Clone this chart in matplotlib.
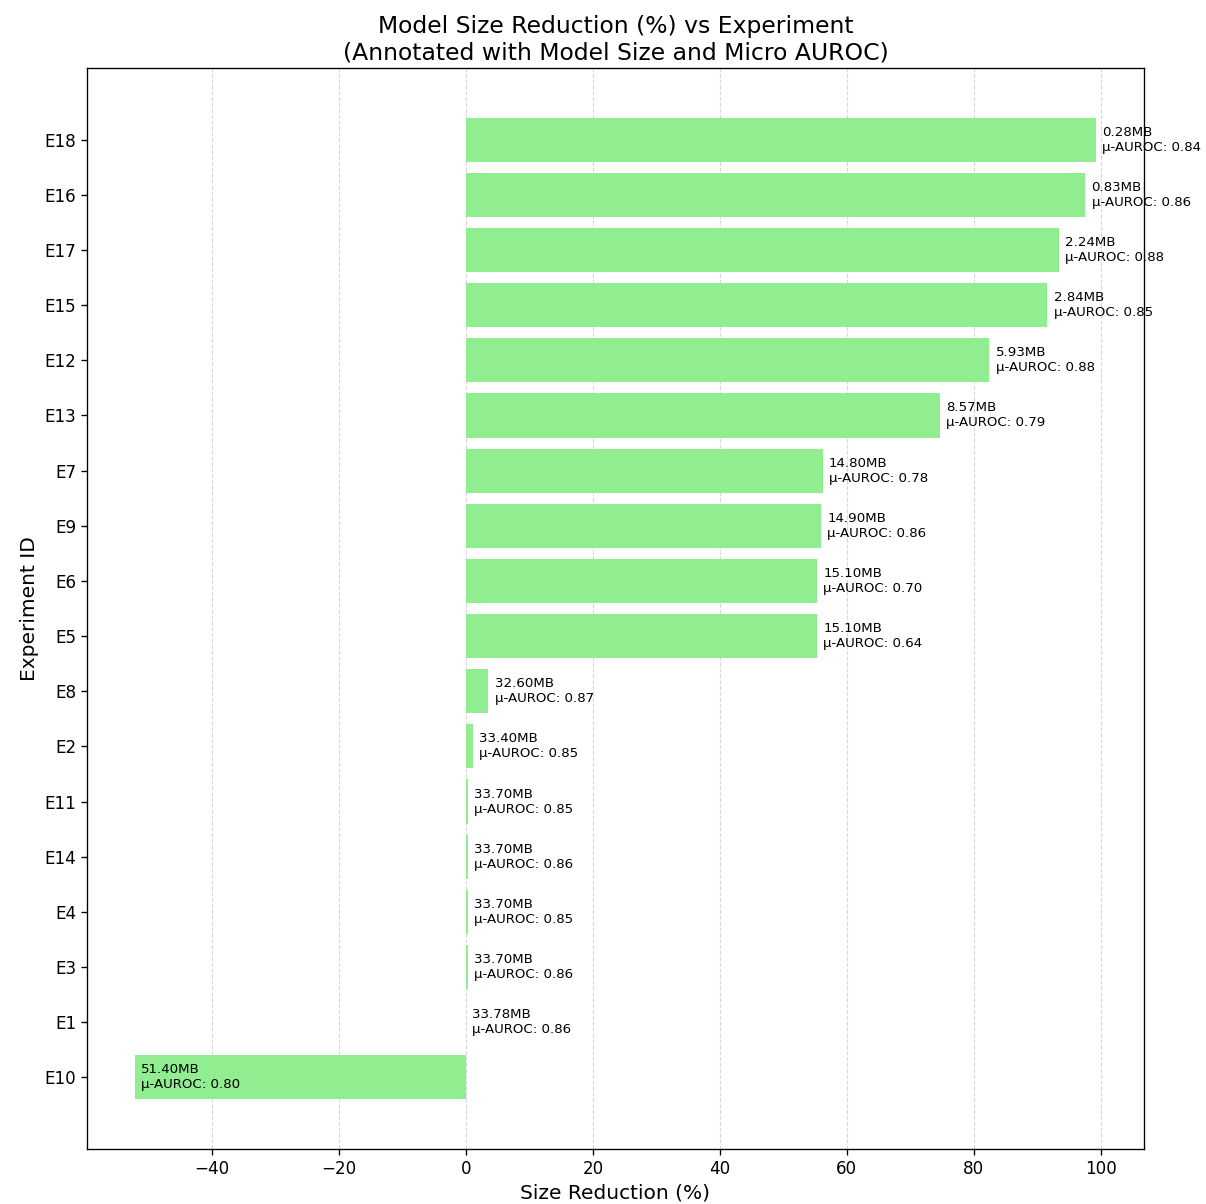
import matplotlib
matplotlib.use("Agg")
import matplotlib.pyplot as plt

experiments = ["E18", "E16", "E17", "E15", "E12", "E13", "E7", "E9", "E6", "E5",
               "E8", "E2", "E11", "E14", "E4", "E3", "E1", "E10"]
size_reduction = [99.17, 97.54, 93.37, 91.59, 82.45, 74.63, 56.19, 55.89, 55.30, 55.30,
                  3.49, 1.12, 0.24, 0.24, 0.24, 0.24, 0.0, -52.16]
model_size_mb = [0.28, 0.83, 2.24, 2.84, 5.93, 8.57, 14.80, 14.90, 15.10, 15.10,
                 32.60, 33.40, 33.70, 33.70, 33.70, 33.70, 33.78, 51.40]
micro_auroc = [0.84, 0.86, 0.88, 0.85, 0.88, 0.79, 0.78, 0.86, 0.70, 0.64,
               0.87, 0.85, 0.85, 0.86, 0.85, 0.86, 0.86, 0.80]

s = 1.206
fig = plt.figure(figsize=(12.06, 12.04), dpi=100)
ax = fig.add_axes([87/1206, 1 - 1149/1204, (1144-87)/1206, (1149-68)/1204])

# reverse so first item is on top
exps = experiments[::-1]
vals = size_reduction[::-1]
sizes = model_size_mb[::-1]
aucs = micro_auroc[::-1]
ypos = list(range(len(exps)))

ax.barh(ypos, vals, color="lightgreen", height=0.8, zorder=2)
for y, v, sz, a in zip(ypos, vals, sizes, aucs):
    ax.text(v + 1, y, f"{sz:.2f}MB\n\u03bc-AUROC: {a:.2f}", va="center", ha="left",
            fontsize=8 * s, zorder=3)

ax.set_yticks(ypos)
ax.set_yticklabels(exps)
ax.set_ylim(-1.3, 18.3)
ax.set_xlim(-59.7, 106.8)
ax.set_xticks([-40, -20, 0, 20, 40, 60, 80, 100])
ax.grid(axis="x", linestyle="--", alpha=0.5, zorder=0)
ax.tick_params(labelsize=10 * s, width=0.8 * s, length=3.5 * s)
for sp in ax.spines.values():
    sp.set_linewidth(0.8 * s)
ax.set_xlabel("Size Reduction (%)", fontsize=12 * s)
ax.set_ylabel("Experiment ID", fontsize=12 * s)
ax.set_title("Model Size Reduction (%) vs Experiment\n(Annotated with Model Size and Micro AUROC)",
             fontsize=14 * s)

fig.savefig("out.png", dpi=100)
